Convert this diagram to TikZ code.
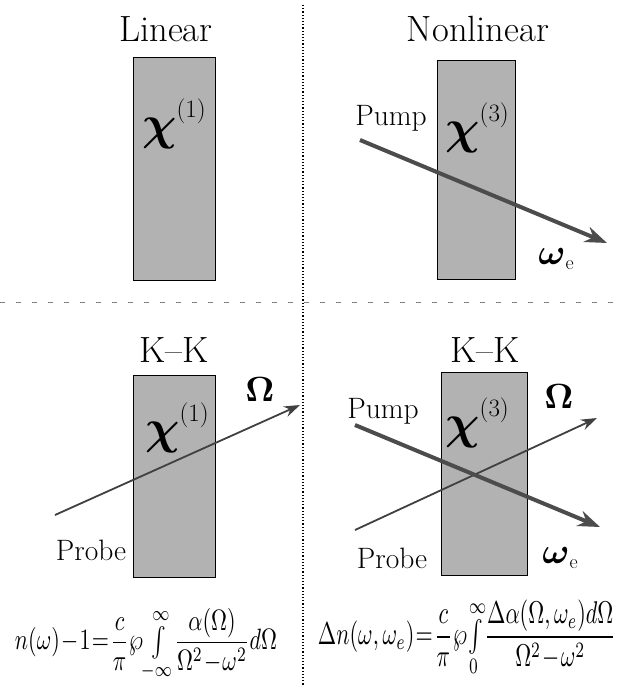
\documentclass[tikz,border=0pt]{standalone}
\usepackage{fontspec}
\usetikzlibrary{arrows.meta}
\tikzset{every picture/.style={line width=0.75pt}}
\tikzset{
  crystal/.style={draw=black, fill=black!30, line width=0.8pt, inner sep=0pt, outer sep=0pt},
  title/.style={font=\fontsize{36.5}{42}\selectfont, anchor=base},
  beamlabel/.style={font=\fontsize{29.5}{34}\selectfont, anchor=base},
  probebeam/.style={-{Stealth[length=16pt,width=11pt]}, line width=1.8pt, black!75},
  pumpbeam/.style={-{Stealth[length=22pt,width=16pt]}, line width=4pt, black!70},
}
% Suszeptibilitaet chi^(n), Frequenzen
\newcommand{\susc}[1]{\scalebox{4.8}{\boldmath$\chi$}\raisebox{22pt}{\fontsize{25}{28}\selectfont(#1)}}
\newcommand{\wexc}{\scalebox{3.6}{\boldmath$\omega$}\raisebox{-5pt}{\fontsize{20}{24}\selectfont e}}
\newcommand{\wsig}{\scalebox{3.5}{\boldmath$\Omega$}}

\begin{document}
\begin{tikzpicture}[x=1pt, y=-1pt]
    \useasboundingbox (0,0) rectangle (618,685);

    % Trennlinien
    \draw[dotted, line width=1.2pt] (303,5) -- (303,685);
    \draw[gray, line width=0.9pt, dash pattern=on 5pt off 11pt] (0,302) -- (618,302);

    % linear (oben links)
    \node[title] (linT) at (166,42) {Linear};
    \node[crystal, minimum width=82pt, minimum height=223pt] (boxTL) at (174,168.5) {};
    \node (chiTL) at (174,124) {\susc{1}};

    % nichtlinear (oben rechts)
    \node[title] (nonlinT) at (478,42) {Nonlinear};
    \node[crystal, minimum width=78pt, minimum height=219pt] (boxTR) at (476,169.5) {};
    \node (chiTR) at (477,128) {\susc{3}};
    \node[beamlabel] (pumpTR) at (391,125) {Pump};
    \coordinate (pumpTR-in) at (360,140);
    \coordinate (pumpTR-out) at (607,243);
    \draw[pumpbeam] (pumpTR-in) -- (pumpTR-out);
    \node (weTR) at (556,259) {\wexc};

    % K-K linear (unten links)
    \node[title] (kkL) at (174,362) {K--K};
    \node[crystal, minimum width=82pt, minimum height=202pt] (boxBL) at (174,476) {};
    \node (chiBL) at (177,428) {\susc{1}};
    \coordinate (probeL-in) at (55,515);
    \coordinate (probeL-out) at (300,405);
    \draw[probebeam] (probeL-in) -- (probeL-out);
    \node (omL) at (260,389) {\wsig};
    \node[beamlabel] (probeL) at (91,560) {Probe};

    % K-K nichtlinear (unten rechts)
    \node[title] (kkR) at (485,362) {K--K};
    \node[crystal, minimum width=86pt, minimum height=203pt] (boxBR) at (484,473.5) {};
    \node (chiBR) at (477,423) {\susc{3}};
    \node[beamlabel] (pumpBR) at (383,418) {Pump};
    \coordinate (pumpBR-in) at (355,425);
    \coordinate (pumpBR-out) at (600,527);
    \coordinate (probeR-in) at (355,530);
    \coordinate (probeR-out) at (597,418);
    \draw[probebeam] (probeR-in) -- (probeR-out);
    \draw[pumpbeam] (pumpBR-in) -- (pumpBR-out);
    \node (omR) at (559,396) {\wsig};
    \node (weBR) at (560,558) {\wexc};
    \node[beamlabel] (probeR) at (392,568) {Probe};

    % Kramers-Kronig Relationen
    \node[inner sep=0pt] (kkLeq) at (146,645) {\resizebox*{262pt}{74pt}{$\medmuskip=1mu\thickmuskip=1mu\displaystyle n(\omega)-1=\frac{c}{\pi}\wp{\textstyle\int\limits_{-\infty}^{\infty}}\frac{\alpha(\Omega)}{\Omega^2-\omega^2}d\Omega$}};
    \node[inner sep=0pt] (kkReq) at (467,638.5) {\resizebox*{298pt}{77pt}{$\medmuskip=1mu\thickmuskip=1mu\displaystyle \Delta n(\omega,\omega_e)=\frac{c}{\pi}\wp{\textstyle\int\limits_{0}^{\infty}}\frac{\Delta\alpha(\Omega,\omega_e)d\Omega}{\Omega^2-\omega^2}$}};
\end{tikzpicture}
\end{document}
